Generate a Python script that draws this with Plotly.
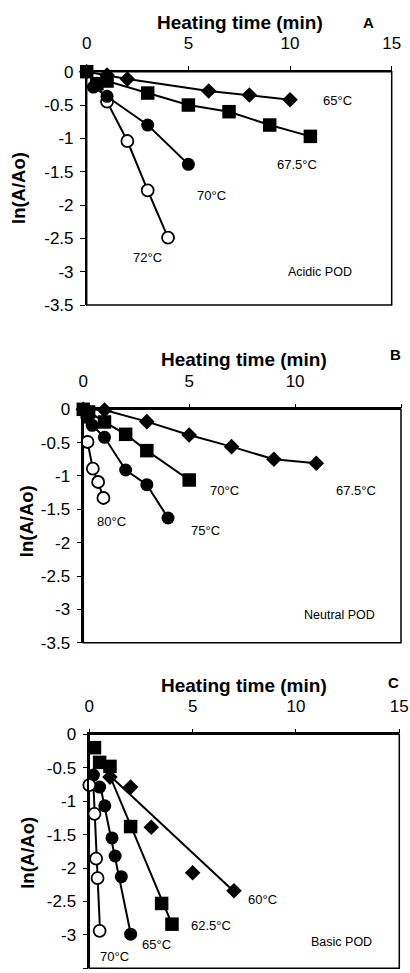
import plotly.graph_objects as go

# ---------------- data ----------------
x_ticks = [0, 5, 10, 15]
x_tick_labels = ["0", "5", "10", "15"]
y_ticks = [0, -0.5, -1, -1.5, -2, -2.5, -3, -3.5]
y_tick_labels = ["0", "-0.5", "-1", "-1.5", "-2", "-2.5", "-3", "-3.5"]

# Panel A (Acidic POD)
a65_x = [0, 1, 2, 6, 8, 10]
a65_y = [0, -0.05, -0.11, -0.29, -0.35, -0.42]
a675_x = [0, 0.5, 1, 3, 5, 7, 9, 11]
a675_y = [0, -0.18, -0.14, -0.32, -0.5, -0.6, -0.8, -0.97]
a70_x = [0.33, 1, 3, 5]
a70_y = [-0.23, -0.37, -0.8, -1.39]
a72_x = [0.5, 1, 2, 3, 4]
a72_y = [-0.18, -0.45, -1.04, -1.78, -2.49]

# Panel B (Neutral POD)
b675_x = [0, 1, 3, 5, 7, 9, 11]
b675_y = [0, -0.01, -0.185, -0.385, -0.56, -0.75, -0.81]
b70_x = [0, 0.25, 1, 2, 3, 5]
b70_y = [0, -0.04, -0.19, -0.375, -0.62, -1.06]
b75_x = [0.17, 0.42, 1, 2, 3, 4]
b75_y = [-0.12, -0.24, -0.42, -0.91, -1.13, -1.63]
b80_x = [0.2, 0.45, 0.7, 0.95]
b80_y = [-0.49, -0.89, -1.09, -1.33]

# Panel C (Basic POD) - points
c60_x = [1, 2, 3, 5, 7]
c60_y = [-0.64, -0.79, -1.39, -2.07, -2.34]
c625_x = [0.25, 0.5, 1, 2, 3.5, 4]
c625_y = [-0.2, -0.42, -0.48, -1.38, -2.53, -2.84]
c65_x = [0.2, 0.5, 0.75, 1.1, 1.25, 1.55, 2.0]
c65_y = [-0.61, -0.79, -1.07, -1.55, -1.82, -2.13, -2.99]
c70_x = [0, 0.25, 0.33, 0.4, 0.5]
c70_y = [-0.76, -1.19, -1.86, -2.15, -2.94]
# Panel C - fitted lines (end points)
c60_fit_x = [1, 7]
c60_fit_y = [-0.62, -2.35]
c625_fit_x = [0.9, 4]
c625_fit_y = [-0.55, -2.84]
c65_fit_x = [0.5, 2.0]
c65_fit_y = [-0.72, -2.98]
c70_fit_x = [0.2, 0.52]
c70_fit_y = [-0.76, -2.94]

FONT = "Liberation Sans, Arial, sans-serif"
W, H = 410, 973

def px_x(p):
    return p / W

def px_y(p):
    return 1 - p / H

# panel pixel boxes: (left, right, top, bottom)
boxes = {
    "A": (86.7, 391.7, 71.7, 305.0),
    "B": (83.3, 401.0, 409.3, 642.7),
    "C": (89.3, 399.3, 734.3, 968.3),
}

DIAMOND = dict(symbol="diamond", size=12, color="black", line=dict(width=0))
SQUARE = dict(symbol="square", size=13.5, color="black", line=dict(width=0))
FCIRCLE = dict(symbol="circle", size=13, color="black", line=dict(width=0))
OCIRCLE = dict(symbol="circle", size=12, color="white", line=dict(width=1.8, color="black"))
LINE = dict(color="black", width=2)

fig = go.Figure()

def series(x, y, marker, ax):
    xa = "x" if ax == 1 else f"x{ax}"
    ya = "y" if ax == 1 else f"y{ax}"
    fig.add_trace(go.Scatter(x=x, y=y, mode="lines+markers", marker=marker, line=LINE,
                             xaxis=xa, yaxis=ya, cliponaxis=False, showlegend=False))

def points(x, y, marker, ax):
    fig.add_trace(go.Scatter(x=x, y=y, mode="markers", marker=marker,
                             xaxis=f"x{ax}", yaxis=f"y{ax}", cliponaxis=False, showlegend=False))

def fitline(x, y, ax):
    fig.add_trace(go.Scatter(x=x, y=y, mode="lines", line=LINE,
                             xaxis=f"x{ax}", yaxis=f"y{ax}", cliponaxis=False, showlegend=False))

# Panel A
series(a72_x, a72_y, OCIRCLE, 1)
series(a70_x, a70_y, FCIRCLE, 1)
series(a65_x, a65_y, DIAMOND, 1)
series(a675_x, a675_y, SQUARE, 1)

# Panel B
series(b675_x, b675_y, DIAMOND, 2)
series(b80_x, b80_y, OCIRCLE, 2)
series(b75_x, b75_y, FCIRCLE, 2)
series(b70_x, b70_y, SQUARE, 2)

# Panel C
fitline(c60_fit_x, c60_fit_y, 3)
fitline(c625_fit_x, c625_fit_y, 3)
fitline(c65_fit_x, c65_fit_y, 3)
fitline(c70_fit_x, c70_fit_y, 3)
points(c60_x, c60_y, DIAMOND, 3)
points(c625_x, c625_y, SQUARE, 3)
points(c65_x, c65_y, FCIRCLE, 3)
points(c70_x, c70_y, OCIRCLE, 3)

layout = dict(width=W, height=H, margin=dict(l=0, r=0, t=0, b=0, autoexpand=False), autosize=False,
              paper_bgcolor="white", plot_bgcolor="white",
              font=dict(family=FONT, color="black"))

shapes = []
for i, key in enumerate(["A", "B", "C"], start=1):
    l, r, t, b = boxes[key]
    sfx = "" if i == 1 else str(i)
    layout["xaxis" + sfx] = dict(
        domain=[px_x(l), px_x(r)], range=[0, 15], side="top",
        anchor="y" + sfx, tickvals=x_ticks, ticktext=x_tick_labels,
        ticks="outside", ticklen=4, tickwidth=1.2, tickcolor="black",
        showline=True, linewidth=1.5, linecolor="black", mirror=False,
        showgrid=False, zeroline=False, tickfont=dict(size=17, family=FONT),
        ticklabelstandoff=10, fixedrange=True, automargin=False)
    layout["yaxis" + sfx] = dict(
        domain=[px_y(b), px_y(t)], range=[-3.5, 0],
        anchor="x" + sfx, tickvals=y_ticks, ticktext=y_tick_labels,
        ticks="outside", ticklen=5, tickwidth=1.2, tickcolor="black",
        showline=True, linewidth=1.5, linecolor="black", mirror=False,
        showgrid=False, zeroline=False, tickfont=dict(size=17, family=FONT),
        ticklabelstandoff=3, fixedrange=True, automargin=False)
    shapes.append(dict(type="rect", xref=f"x{sfx} domain", yref=f"y{sfx} domain",
                       x0=0, x1=1, y0=0, y1=1, line=dict(color="black", width=1.5),
                       layer="below"))

layout["shapes"] = shapes
fig.update_layout(**layout)

def ann(text, x, y, size=13, bold=False, angle=0):
    t = f"<b>{text}</b>" if bold else text
    fig.add_annotation(text=t, x=px_x(x), y=px_y(y), xref="paper", yref="paper",
                       showarrow=False, xanchor="center", yanchor="middle",
                       textangle=angle, font=dict(size=size, family=FONT, color="black"))

# titles / letters
ann("Heating time (min)", 240, 22, size=19, bold=True)
ann("A", 368, 22, size=15, bold=True)
ann("Heating time (min)", 244, 359.5, size=19, bold=True)
ann("B", 395, 354, size=15, bold=True)
ann("Heating time (min)", 244.3, 685.5, size=19, bold=True)
ann("C", 393.3, 682.7, size=15, bold=True)

ann("ln(A/Ao)", 18, 188, size=18.5, bold=True, angle=-90)
ann("ln(A/Ao)", 26.5, 521.7, size=18.5, bold=True, angle=-90)
ann("ln(A/Ao)", 27.5, 853.3, size=18.5, bold=True, angle=-90)

# Panel A labels
ann("65°C", 337, 100)
ann("67.5°C", 297, 164)
ann("70°C", 211, 195)
ann("72°C", 147, 257)
ann("Acidic POD", 320, 272, size=12.5)

# Panel B labels
ann("70°C", 224, 490)
ann("67.5°C", 356, 490)
ann("80°C", 111.7, 521.7)
ann("75°C", 205, 530.7)
ann("Neutral POD", 339, 615, size=12.5)

# Panel C labels
ann("60°C", 262.7, 899.3)
ann("62.5°C", 211, 925)
ann("65°C", 156.7, 944)
ann("70°C", 114.3, 956)
ann("Basic POD", 341.7, 941.7, size=12.5)

fig.write_html("out.html", config={"displayModeBar": False},
               post_script="document.body.style.margin='0';document.body.style.overflow='hidden';")
